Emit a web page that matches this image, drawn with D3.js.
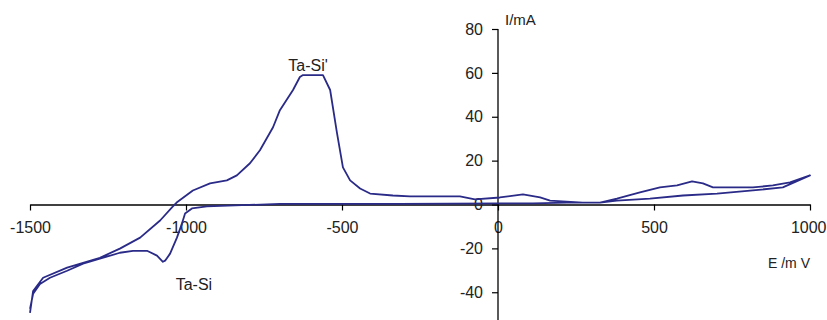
<!DOCTYPE html>
<html><head><meta charset="utf-8">
<script src="https://cdn.jsdelivr.net/npm/d3@7"></script>
<style>
html,body{margin:0;padding:0;background:#fff;}
text{font-family:"Liberation Sans",Arial,sans-serif;}
</style></head>
<body>
<svg id="chart" width="827" height="320"></svg>
<script>
// Potential (mV) and current (mA) along the closed cyclic scan
const potential = [
 -1500,-1490,-1458,-1381,-1276,-1212,-1147,-1083,-1042,-1030,-978,-923,-869,-837,-795,-763,-721,-699,-657,-635,-625,-561,-538,-516,-497,-474,-442,-410,-337,-282,-122,-74,6,80,135,167,272,327,381,455,519,574,622,657,689,753,817,881,936,1000,
 913,817,702,593,487,381,327,221,112,6,-314,-699,-933,-981,-1003,-1013,-1029,-1051,-1067,-1074,-1093,-1125,-1170,-1212,-1276,-1330,-1381,-1436,-1468,-1490,-1500];
const current = [
 -49.4,-39.4,-33.4,-28.8,-24.3,-20.1,-15.1,-7.3,-0.9,0.9,6.4,9.6,11.0,13.3,18.8,24.7,35.2,43.0,52.2,58.1,59.0,59.0,52.2,32.5,16.9,11.0,7.3,5.0,4.1,3.7,3.7,2.3,3.2,4.6,3.2,1.8,0.9,0.9,2.7,5.5,7.8,8.7,10.5,9.6,7.8,7.8,7.8,8.7,10.1,13.3,
 7.8,6.4,5.0,4.1,2.7,1.8,0.9,0.9,0.5,0.5,0.3,0.3,-0.9,-1.8,-4.1,-8.7,-15.1,-22.4,-25.6,-26.1,-23.3,-21.1,-21.1,-22.0,-24.7,-27.0,-30.2,-33.4,-36.2,-40.7,-47.6];
const xTicks = [-1500,-1000,-500,0,500,1000];
const yTicks = [-40,-20,0,20,40,60,80];
const annotations = [
  {text:"Ta-Si'", e:-672, i:61},
  {text:"Ta-Si", e:-1033, i:-39}
];

const svg = d3.select("#chart");
const x = d3.scaleLinear().domain([-1500,1000]).range([30,810]);
const y = d3.scaleLinear().domain([0,80]).range([204.5,29]);
const ink = "#222";
const fmt = d => String(d);

// x axis at y=0
const xAxis = d3.axisBottom(x).tickValues(xTicks).tickFormat(fmt).tickSize(6).tickPadding(11).tickSizeOuter(0);
const gx = svg.append("g").attr("transform",`translate(0,${y(0)})`).call(xAxis);
// y axis at x=0
const yAxis = d3.axisLeft(y).tickValues(yTicks).tickFormat(fmt).tickSize(6).tickPadding(9).tickSizeOuter(0);
const gy = svg.append("g").attr("transform",`translate(${x(0)},0)`).call(yAxis);
gy.select(".domain").attr("d",`M0,${y(80)}V320`);
[gx,gy].forEach(g=>{
  g.selectAll(".domain").attr("stroke","#000").attr("stroke-width",1.3);
  g.selectAll(".tick line").attr("stroke","#000").attr("stroke-width",1.2);
  g.selectAll(".tick text").attr("fill",ink).attr("font-size",16)
   .attr("font-family","'Liberation Sans',Arial,sans-serif");
});
// keep the last x label inside the frame
gx.selectAll(".tick text").filter(d=>d===1000).attr("text-anchor","end").attr("x",16);

// curve
const line = d3.line().x((d,k)=>x(potential[k])).y((d,k)=>y(current[k]));
svg.append("path").datum(potential).attr("d",line).attr("fill","none")
  .attr("stroke","#2a2a88").attr("stroke-width",1.8).attr("stroke-linejoin","round");

// axis titles
svg.append("text").attr("x",x(0)+7).attr("y",25).attr("font-size",15).attr("fill",ink).text("I/mA");
svg.append("text").attr("x",x(1000)).attr("y",268).attr("text-anchor","end").attr("font-size",14).attr("fill",ink).attr("xml:space","preserve").text("E /m V");

// peak labels
svg.selectAll("text.ann").data(annotations).enter().append("text").attr("class","ann")
  .attr("x",d=>x(d.e)).attr("y",d=>y(d.i)).attr("font-size",16).attr("fill",ink).text(d=>d.text);
</script>
</body></html>
